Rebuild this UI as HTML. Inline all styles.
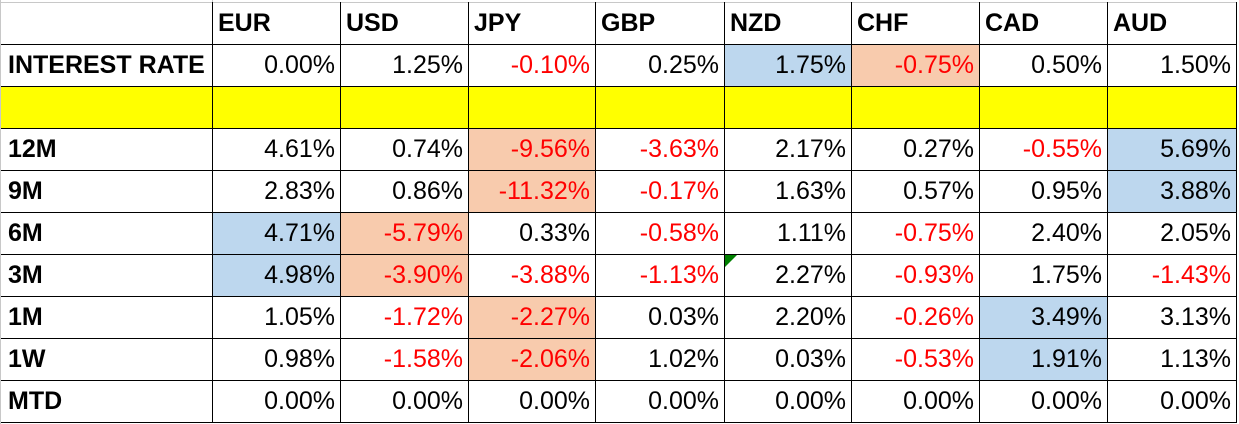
<!DOCTYPE html>
<html><head><meta charset="utf-8"><style>
body{margin:0;width:1239px;height:424px;background:#fff;overflow:hidden;font-family:"Liberation Sans",sans-serif;}
#t{position:absolute;left:0;top:0;width:1239px;height:424px;}
.c{position:absolute;box-sizing:border-box;font-size:25px;line-height:42px;white-space:nowrap;overflow:hidden;}
.v{text-align:right;padding-right:5px;}
.l{font-weight:bold;padding-left:8px;}
.h{font-weight:bold;padding-left:6px;}
.hl{position:absolute;height:1px;background:#000;}
.vl{position:absolute;width:1px;background:#000;}
</style></head><body>
<div id="t"></div>
<script>
const currencies=["EUR","USD","JPY","GBP","NZD","CHF","CAD","AUD"];
const rowLabels=["INTEREST RATE","","12M","9M","6M","3M","1M","1W","MTD"];
const values=[
["0.00%","1.25%","-0.10%","0.25%","1.75%","-0.75%","0.50%","1.50%"],
null,
["4.61%","0.74%","-9.56%","-3.63%","2.17%","0.27%","-0.55%","5.69%"],
["2.83%","0.86%","-11.32%","-0.17%","1.63%","0.57%","0.95%","3.88%"],
["4.71%","-5.79%","0.33%","-0.58%","1.11%","-0.75%","2.40%","2.05%"],
["4.98%","-3.90%","-3.88%","-1.13%","2.27%","-0.93%","1.75%","-1.43%"],
["1.05%","-1.72%","-2.27%","0.03%","2.20%","-0.26%","3.49%","3.13%"],
["0.98%","-1.58%","-2.06%","1.02%","0.03%","-0.53%","1.91%","1.13%"],
["0.00%","0.00%","0.00%","0.00%","0.00%","0.00%","0.00%","0.00%"]];
const fills=[
"....B O..",
"YYYYYYYY",
"..O....B",
"..O....B",
"BO......",
"BO......",
"..O...B.",
"..O...B.",
"........"];
const colX=[0,212,340,468,595,724,851,979,1107,1236];
const rowY=[2,44,86,128,170,212,254,296,338,380,422];
const T=document.getElementById('t');
const fillMap={B:"#bdd7ee",O:"#f8cbad",Y:"#ffff00"};
function mk(cls,x,y,w,h,txt){const d=document.createElement('div');d.className=cls;d.style.left=x+'px';d.style.top=y+'px';d.style.width=w+'px';d.style.height=h+'px';if(txt!==undefined)d.textContent=txt;T.appendChild(d);return d;}
// header
currencies.forEach((c,i)=>{const d=mk('c h',colX[i+1],rowY[0],colX[i+2]-colX[i+1],42,c);

});
rowLabels.forEach((lab,r)=>{
 const y=rowY[r+1],h=rowY[r+2]-y;
 const fs=fills[r].replace(/ /g,'');
 const ld=mk('c l',colX[0],y,colX[1]-colX[0],h,lab);
 if(r===1)ld.style.background='#ffff00';
 
 
 currencies.forEach((c,i)=>{
  const v=values[r]?values[r][i]:'';
  const d=mk('c v',colX[i+1],y,colX[i+2]-colX[i+1],h,v);
  const f=fs[i];if(fillMap[f])d.style.background=fillMap[f];
  if(v.startsWith('-'))d.style.color='#ff0000';
  
  
 });
});
// grid lines
rowY.forEach((y,i)=>{const d=mk('hl',0,y,1237,1);if(i===0)d.style.background='#c8c8c8';

});
colX.forEach((x,i)=>{const d=mk('vl',x,i===0?0:2,1,i===0?424:420);if(i===0)d.style.background='#c8c8c8';

});
mk('vl',colX[1],0,1,2).style.background='#c8c8c8';
// green triangle
const tri=document.createElement('div');
tri.style.cssText='position:absolute;left:725px;top:255px;width:0;height:0;border-top:12px solid #008000;border-right:12px solid transparent;';


T.appendChild(tri);
</script>
</body></html>
